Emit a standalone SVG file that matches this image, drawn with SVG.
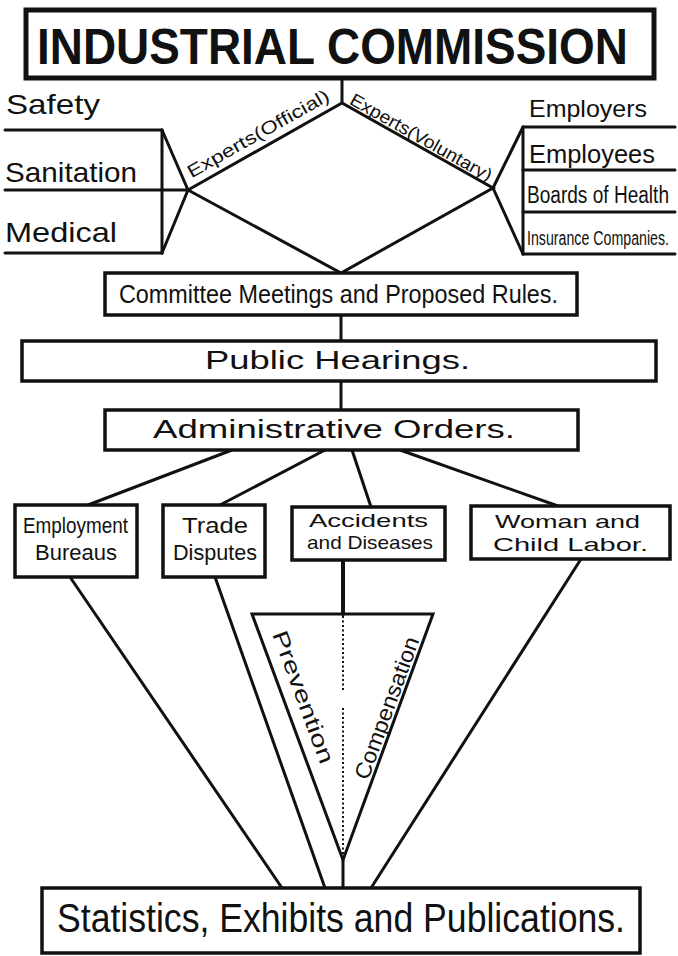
<svg xmlns="http://www.w3.org/2000/svg" width="678" height="956" viewBox="0 0 678 956">
<style>
.bg{fill:#ffffff}
.box{fill:#ffffff;stroke:#111;stroke-width:3.5}
.ln{fill:none;stroke:#111;stroke-width:3;stroke-linecap:round}
.dot{fill:none;stroke:#111;stroke-width:2;stroke-dasharray:2 2.5}
.t{font-family:"Liberation Sans","DejaVu Sans",sans-serif;fill:#111}
.title{font-family:"Liberation Sans","DejaVu Sans",sans-serif;font-weight:bold;fill:#111}
</style>
<rect class="bg" x="0" y="0" width="678" height="956"/>

<g id="connectors">
  <line class="ln" x1="342" y1="78" x2="342" y2="103"/>
  <polyline class="ln" points="188,190 342,103 493,188 341,273 188,190"/>
  <line class="ln" x1="5" y1="130" x2="162" y2="130"/>
  <line class="ln" x1="5" y1="190" x2="188" y2="190"/>
  <line class="ln" x1="5" y1="253" x2="162" y2="253"/>
  <line class="ln" x1="162" y1="130" x2="162" y2="253"/>
  <line class="ln" x1="162" y1="130" x2="188" y2="190"/>
  <line class="ln" x1="162" y1="253" x2="188" y2="190"/>
  <line class="ln" x1="523" y1="127" x2="675" y2="127"/>
  <line class="ln" x1="523" y1="170" x2="675" y2="170"/>
  <line class="ln" x1="523" y1="212" x2="675" y2="212"/>
  <line class="ln" x1="523" y1="254" x2="675" y2="254"/>
  <line class="ln" x1="523" y1="127" x2="523" y2="254"/>
  <line class="ln" x1="523" y1="127" x2="493" y2="188"/>
  <line class="ln" x1="523" y1="254" x2="493" y2="188"/>
  <line class="ln" x1="341" y1="315" x2="341" y2="341"/>
  <line class="ln" x1="341" y1="381" x2="341" y2="410"/>
  <line class="ln" x1="232" y1="450" x2="88" y2="505"/>
  <line class="ln" x1="325" y1="450" x2="220" y2="505"/>
  <line class="ln" x1="352" y1="450" x2="371" y2="507"/>
  <line class="ln" x1="400" y1="450" x2="558" y2="506"/>
  <line class="ln" x1="70" y1="577" x2="282" y2="888"/>
  <line class="ln" x1="215" y1="577" x2="325" y2="888"/>
  <line class="ln" x1="581" y1="559" x2="371" y2="888"/>
  <line class="ln" x1="343" y1="560" x2="343" y2="614" style="stroke-width:4"/>
  <line class="ln" x1="343" y1="860" x2="343" y2="888"/>
</g>

<g id="title">
  <rect class="box" x="26" y="10" width="628" height="68" style="stroke-width:5"/>
  <text class="title" x="37" y="64" font-size="50" textLength="591" lengthAdjust="spacingAndGlyphs">INDUSTRIAL COMMISSION</text>
</g>

<g id="safety"><text class="t" x="6" y="114" font-size="28" textLength="94" lengthAdjust="spacingAndGlyphs">Safety</text></g>
<g id="sanitation"><text class="t" x="5" y="182" font-size="28" textLength="132" lengthAdjust="spacingAndGlyphs">Sanitation</text></g>
<g id="medical"><text class="t" x="5" y="242" font-size="28" textLength="112" lengthAdjust="spacingAndGlyphs">Medical</text></g>

<g id="experts-official">
  <text class="t" transform="translate(193,181) rotate(-29.5)" x="0" y="-3" font-size="18" textLength="160" lengthAdjust="spacingAndGlyphs">Experts(Official)</text>
</g>
<g id="experts-voluntary">
  <text class="t" transform="translate(347,106) rotate(29.4)" x="0" y="-3" font-size="18" textLength="160" lengthAdjust="spacingAndGlyphs">Experts(Voluntary)</text>
</g>

<g id="employers"><text class="t" x="529" y="117" font-size="24" textLength="118" lengthAdjust="spacingAndGlyphs">Employers</text></g>
<g id="employees"><text class="t" x="529" y="163" font-size="25" textLength="126" lengthAdjust="spacingAndGlyphs">Employees</text></g>
<g id="boards"><text class="t" x="527" y="203" font-size="23" textLength="142" lengthAdjust="spacingAndGlyphs">Boards of Health</text></g>
<g id="insurance"><text class="t" x="527" y="245" font-size="20" textLength="142" lengthAdjust="spacingAndGlyphs">Insurance Companies.</text></g>

<g id="committee">
  <rect class="box" x="105" y="273" width="472" height="42"/>
  <text class="t" x="119" y="303" font-size="25" textLength="439" lengthAdjust="spacingAndGlyphs">Committee Meetings and Proposed Rules.</text>
</g>

<g id="hearings">
  <rect class="box" x="22" y="341" width="634" height="40"/>
  <text class="t" x="205" y="369" font-size="26" textLength="265" lengthAdjust="spacingAndGlyphs">Public Hearings.</text>
</g>

<g id="orders">
  <rect class="box" x="105" y="410" width="473" height="40"/>
  <text class="t" x="153" y="438" font-size="25" textLength="362" lengthAdjust="spacingAndGlyphs">Administrative Orders.</text>
</g>

<g id="employment">
  <rect class="box" x="15" y="505" width="122" height="72"/>
  <text class="t" x="23" y="533" font-size="22" textLength="105" lengthAdjust="spacingAndGlyphs">Employment</text>
  <text class="t" x="35" y="560" font-size="22" textLength="82" lengthAdjust="spacingAndGlyphs">Bureaus</text>
</g>

<g id="trade">
  <rect class="box" x="163" y="505" width="102" height="72"/>
  <text class="t" x="182" y="533" font-size="22" textLength="66" lengthAdjust="spacingAndGlyphs">Trade</text>
  <text class="t" x="173" y="560" font-size="22" textLength="84" lengthAdjust="spacingAndGlyphs">Disputes</text>
</g>

<g id="accidents">
  <rect class="box" x="292" y="507" width="153" height="53"/>
  <text class="t" x="309" y="527" font-size="19" textLength="119" lengthAdjust="spacingAndGlyphs">Accidents</text>
  <text class="t" x="307" y="549" font-size="19" textLength="126" lengthAdjust="spacingAndGlyphs">and Diseases</text>
</g>

<g id="woman">
  <rect class="box" x="471" y="506" width="199" height="53"/>
  <text class="t" x="495" y="528" font-size="19" textLength="145" lengthAdjust="spacingAndGlyphs">Woman and</text>
  <text class="t" x="493" y="551" font-size="19" textLength="155" lengthAdjust="spacingAndGlyphs">Child Labor.</text>
</g>

<g id="triangle">
  <polygon points="252,614 433,614 343,860" fill="none" stroke="#111" stroke-width="3" stroke-linejoin="miter"/>
  <line class="dot" x1="343" y1="616" x2="343" y2="690"/>
  <line class="dot" x1="343" y1="708" x2="343" y2="858"/>
  <text class="t" transform="translate(272,634) rotate(69.7)" x="0" y="0" font-size="22" textLength="140" lengthAdjust="spacingAndGlyphs">Prevention</text>
  <text class="t" transform="translate(368,781) rotate(-69.9)" x="0" y="0" font-size="22" textLength="150" lengthAdjust="spacingAndGlyphs">Compensation</text>
</g>

<g id="statistics">
  <rect class="box" x="42" y="888" width="598" height="65"/>
  <text class="t" x="57" y="932" font-size="40" textLength="568" lengthAdjust="spacingAndGlyphs">Statistics, Exhibits and Publications.</text>
</g>
</svg>
